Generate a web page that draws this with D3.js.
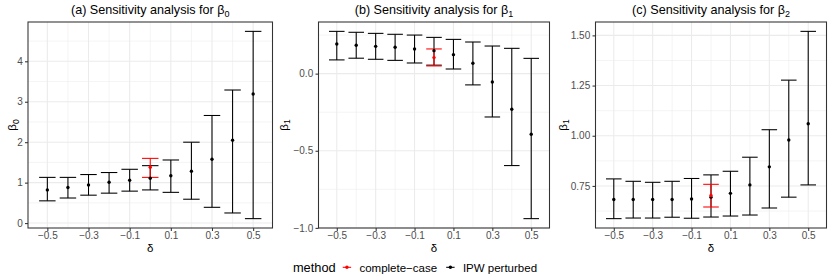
<!DOCTYPE html>
<html>
<head>
<meta charset="utf-8">
<script src="https://cdn.jsdelivr.net/npm/d3@7"></script>
<style>
  html, body { margin: 0; padding: 0; background: #fff; }
  svg { display: block; font-family: "Liberation Sans", Arial, Helvetica, sans-serif; }
</style>
</head>
<body>
<svg id="chart" width="830" height="277"></svg>
<script>
// ---------- data ----------
const deltas = [-0.5, -0.4, -0.3, -0.2, -0.1, 0, 0.1, 0.2, 0.3, 0.4, 0.5];

const beta0Est   = [0.82, 0.88, 0.94, 1.01, 1.06, 1.11, 1.17, 1.28, 1.58, 2.05, 3.19];
const beta0Lower = [0.55, 0.62, 0.69, 0.74, 0.79, 0.82, 0.76, 0.59, 0.39, 0.25, 0.11];
const beta0Upper = [1.13, 1.13, 1.20, 1.25, 1.33, 1.42, 1.56, 2.00, 2.66, 3.29, 4.74];
const beta0CC    = [1.38, 1.13, 1.60]; // estimate, lower, upper (delta = 0)

const beta1Est   = [0.192, 0.184, 0.177, 0.171, 0.160, 0.149, 0.123, 0.067, -0.054, -0.231, -0.393];
const beta1Lower = [0.089, 0.100, 0.093, 0.086, 0.069, 0.055, 0.030, -0.073, -0.281, -0.596, -0.940];
const beta1Upper = [0.274, 0.268, 0.261, 0.255, 0.250, 0.235, 0.222, 0.205, 0.179, 0.164, 0.099];
const beta1CC    = [0.104, 0.050, 0.160];

const beta2Est   = [0.682, 0.682, 0.682, 0.682, 0.685, 0.694, 0.713, 0.755, 0.845, 0.979, 1.060];
const beta2Lower = [0.587, 0.590, 0.590, 0.594, 0.589, 0.595, 0.600, 0.605, 0.640, 0.694, 0.755];
const beta2Upper = [0.785, 0.773, 0.768, 0.773, 0.787, 0.805, 0.823, 0.893, 1.030, 1.277, 1.520];
const beta2CC    = [0.702, 0.645, 0.758];

const xTicks  = [-0.5, -0.3, -0.1, 0.1, 0.3, 0.5];
const xMinor  = [-0.4, -0.2, 0, 0.2, 0.4];
const yTicksA = [0, 1, 2, 3, 4];
const yMinorA = [0.5, 1.5, 2.5, 3.5, 4.5];
const yTicksB = [-1.0, -0.5, 0.0];
const yMinorB = [-0.75, -0.25, 0.25];
const yTicksC = [0.75, 1.00, 1.25, 1.50];
const yMinorC = [0.625, 0.875, 1.125, 1.375];

const titles = ["(a) Sensitivity analysis for β", "(b) Sensitivity analysis for β", "(c) Sensitivity analysis for β"];
const titleSubs = ["0", "1", "2"];
const yLabelSubs = ["0", "1", "1"];
const methods = ["complete-case", "IPW perturbed"];
const methodColors = ["#FF0000", "#000000"];

// ---------- layout ----------
const svg = d3.select("#chart");
const TOP = 22, BOTTOM = 228;
const panels = [
  { left: 28, right: 272.5, ylabX: 12, est: beta0Est, lo: beta0Lower, hi: beta0Upper, cc: beta0CC,
    ticks: yTicksA, minor: yMinorA, fmt: d3.format("d") },
  { left: 318.5, right: 549.5, ylabX: 283.5, est: beta1Est, lo: beta1Lower, hi: beta1Upper, cc: beta1CC,
    ticks: yTicksB, minor: yMinorB, fmt: d3.format(".1f") },
  { left: 595.5, right: 826.5, ylabX: 562.5, est: beta2Est, lo: beta2Lower, hi: beta2Upper, cc: beta2CC,
    ticks: yTicksC, minor: yMinorC, fmt: d3.format(".2f") }
];

const capHalf = 0.04;
const xMinD = d3.min(deltas) - capHalf, xMaxD = d3.max(deltas) + capHalf;
const xPad = (xMaxD - xMinD) * 0.05;

panels.forEach((p, i) => {
  const g = svg.append("g");
  const x = d3.scaleLinear().domain([xMinD - xPad, xMaxD + xPad]).range([p.left, p.right]);
  const lo = Math.min(d3.min(p.lo), p.cc[1]);
  const hi = Math.max(d3.max(p.hi), p.cc[2]);
  const yPad = (hi - lo) * 0.05;
  const y = d3.scaleLinear().domain([lo - yPad, hi + yPad]).range([BOTTOM, TOP]);

  // grid
  const grid = g.append("g");
  grid.selectAll(".ymin").data(p.minor).join("line")
    .attr("x1", p.left).attr("x2", p.right)
    .attr("y1", d => y(d)).attr("y2", d => y(d))
    .attr("stroke", "#EBEBEB").attr("stroke-width", 0.55);
  grid.selectAll(".xmin").data(xMinor).join("line")
    .attr("y1", TOP).attr("y2", BOTTOM)
    .attr("x1", d => x(d)).attr("x2", d => x(d))
    .attr("stroke", "#EBEBEB").attr("stroke-width", 0.55);
  grid.selectAll(".ymaj").data(p.ticks).join("line")
    .attr("x1", p.left).attr("x2", p.right)
    .attr("y1", d => y(d)).attr("y2", d => y(d))
    .attr("stroke", "#EBEBEB").attr("stroke-width", 1.07);
  grid.selectAll(".xmaj").data(xTicks).join("line")
    .attr("y1", TOP).attr("y2", BOTTOM)
    .attr("x1", d => x(d)).attr("x2", d => x(d))
    .attr("stroke", "#EBEBEB").attr("stroke-width", 1.07);

  // IPW error bars
  const rows = deltas.map((d, k) => ({ d, est: p.est[k], lo: p.lo[k], hi: p.hi[k], m: 1 }));
  rows.push({ d: 0, est: p.cc[0], lo: p.cc[1], hi: p.cc[2], m: 0 });
  const bars = g.append("g");
  rows.forEach(r => {
    const col = methodColors[r.m];
    bars.append("line").attr("x1", x(r.d)).attr("x2", x(r.d)).attr("y1", y(r.lo)).attr("y2", y(r.hi))
      .attr("stroke", col).attr("stroke-width", 1.07);
    [r.lo, r.hi].forEach(v => {
      bars.append("line").attr("x1", x(r.d - capHalf)).attr("x2", x(r.d + capHalf))
        .attr("y1", y(v)).attr("y2", y(v)).attr("stroke", col).attr("stroke-width", 1.07);
    });
  });
  g.append("g").selectAll("circle").data(rows).join("circle")
    .attr("cx", r => x(r.d)).attr("cy", r => y(r.est)).attr("r", 1.7)
    .attr("fill", r => methodColors[r.m]);

  // border
  g.append("rect").attr("x", p.left).attr("y", TOP)
    .attr("width", p.right - p.left).attr("height", BOTTOM - TOP)
    .attr("fill", "none").attr("stroke", "#333333").attr("stroke-width", 1.07);

  // axes
  const ya = g.append("g").attr("transform", `translate(${p.left},0)`)
    .call(d3.axisLeft(y).tickValues(p.ticks).tickFormat(p.fmt).tickSize(3).tickPadding(2.3));
  const xa = g.append("g").attr("transform", `translate(0,${BOTTOM})`)
    .call(d3.axisBottom(x).tickValues(xTicks).tickFormat(d3.format(".1f")).tickSize(3).tickPadding(1.2));
  [ya, xa].forEach(a => {
    a.select(".domain").remove();
    a.selectAll(".tick line").attr("stroke", "#333333").attr("stroke-width", 1.07);
    a.selectAll(".tick text").attr("fill", "#4D4D4D").attr("font-size", 10)
      .attr("font-family", "Liberation Sans, Arial, sans-serif");
  });

  // title
  const cx = (p.left + p.right) / 2;
  const t = g.append("text").attr("x", cx).attr("y", 14).attr("text-anchor", "middle")
    .attr("font-size", 12.6).attr("fill", "#000");
  t.append("tspan").text(titles[i]);
  t.append("tspan").attr("font-size", 9).attr("dy", 3).text(titleSubs[i]);

  // x label
  g.append("text").attr("x", cx).attr("y", 251.7).attr("text-anchor", "middle")
    .attr("font-size", 11.5).attr("fill", "#000").text("δ");

  // y label
  const yl = g.append("text")
    .attr("transform", `translate(${p.ylabX},${(TOP + BOTTOM) / 2}) rotate(-90)`)
    .attr("text-anchor", "middle").attr("dy", "0.35em")
    .attr("font-size", 11.5).attr("fill", "#000");
  yl.append("tspan").text("β");
  yl.append("tspan").attr("font-size", 8.5).attr("dy", 2.5).text(yLabelSubs[i]);
});

// ---------- legend ----------
const leg = svg.append("g");
const legY = 271.7, keyY = 267.3;
const title = leg.append("text").attr("y", legY).attr("font-size", 12.8).attr("fill", "#000").text("method");
const items = methods.map((m, k) => leg.append("text").attr("y", legY).attr("font-size", 11.5)
  .attr("fill", "#000").text(m.replace("-", "\u2212")));
const tw = title.node().getComputedTextLength();
const iw = items.map(n => n.node().getComputedTextLength());
const gapTitleKey = 11.3, keyText = 12.5, textKey = 13.3;
const total = tw + gapTitleKey + keyText + iw[0] + textKey + keyText + iw[1];
let cur = 415 - total / 2;
title.attr("x", cur);
cur += tw + gapTitleKey;
methods.forEach((m, k) => {
  leg.append("line").attr("x1", cur - 4.2).attr("x2", cur + 4.2).attr("y1", keyY).attr("y2", keyY)
    .attr("stroke", methodColors[k]).attr("stroke-width", 1.07);
  leg.append("circle").attr("cx", cur).attr("cy", keyY).attr("r", 1.7).attr("fill", methodColors[k]);
  items[k].attr("x", cur + keyText);
  cur += keyText + iw[k] + textKey;
});
</script>
</body>
</html>
